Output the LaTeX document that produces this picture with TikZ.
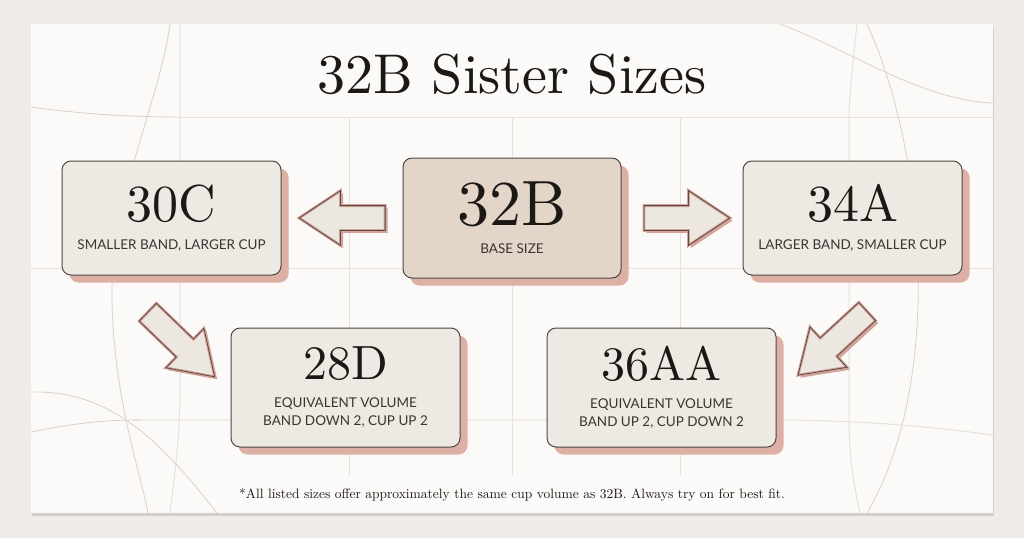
\documentclass[tikz,border=0pt]{standalone}
\usepackage{fontspec}
\newfontfamily\latofont{Lato}
\newfontfamily\dispfont{lmroman10-regular}[Extension=.otf]
\usepackage{tikz}
\usetikzlibrary{positioning,shapes.arrows,shadows}
\definecolor{pagebg}{HTML}{EFECE7}
\definecolor{cardbg}{HTML}{FBFAF8}
\definecolor{gridc}{HTML}{E6E1DA}
\definecolor{decoc}{HTML}{D9D2C8}
\definecolor{boxfill}{HTML}{EDEAE3}
\definecolor{basefill}{HTML}{E3D6C8}
\definecolor{boxline}{HTML}{4F4743}
\definecolor{boxshadow}{HTML}{DDB0A6}
\definecolor{arrowfill}{HTML}{ECE8E1}
\definecolor{arrowpink}{HTML}{D3A298}
\definecolor{arrowdark}{HTML}{5E4A45}
\definecolor{inkc}{HTML}{1C1816}
\definecolor{subc}{HTML}{3B3532}
\newcommand\numfont[1]{\dispfont\fontsize{#1}{#1}\selectfont\color{inkc}}
\newcommand\subfont{\latofont\fontsize{13.5}{18}\selectfont}
\tikzset{
  sizebox/.style={draw=boxline, line width=1pt, rounded corners=9pt, fill=boxfill,
    align=center, font=\subfont, text=subc, inner sep=0pt,
    drop shadow={shadow xshift=7.5pt, shadow yshift=-7.5pt, fill=boxshadow, opacity=1}},
  basebox/.style={sizebox, fill=basefill},
  swaparrow/.style={single arrow, fill=arrowfill, draw=arrowpink, line width=2.8pt,
    minimum height=86pt, single arrow head extend=15pt,
    single arrow tip angle=67, inner xsep=0pt, inner ysep=11pt,
    postaction={draw=arrowdark, line width=0.8pt},
    drop shadow={shadow xshift=2.5pt, shadow yshift=-2.5pt, fill=arrowpink, opacity=1}},
  gridline/.style={draw=gridc, line width=1pt},
  deco/.style={draw=decoc, line width=0.8pt},
}
\begin{document}
\begin{tikzpicture}[x=1pt, y=1pt]
  \useasboundingbox (0,0) rectangle (1024,-538);
  \fill[pagebg] (0,0) rectangle (1024,-538);
  \path[fill=cardbg, drop shadow={shadow xshift=1pt, shadow yshift=-2.5pt, fill=black, opacity=0.12}]
    (31,-24) rectangle (993,-513);

  \draw[gridline] (180,-117) -- (993,-117);
  \draw[gridline] (31,-268) -- (993,-268);
  \draw[gridline] (133,-420) -- (783,-420) .. controls (880,-421) and (940,-428) .. (993,-435);
  \foreach \gx in {349,512,680}
    \draw[gridline] (\gx,-117) -- (\gx,-476);
  \draw[gridline] (180,-24) -- (180,-390) .. controls (180,-440) and (174,-480) .. (170,-513);
  \draw[gridline] (857,-24) .. controls (852,-70) and (849,-100) .. (849,-117) -- (849,-420)
    .. controls (849,-460) and (855,-490) .. (860,-513);

  \draw[deco] (31,-107) .. controls (80,-114) and (130,-117) .. (180,-117);
  \draw[deco] (170,-24) .. controls (160,-100) and (110,-200) .. (112,-300)
    .. controls (114,-400) and (140,-470) .. (148,-513);
  \draw[deco] (31,-392) .. controls (110,-390) and (160,-440) .. (217,-513);
  \draw[deco] (31,-432) .. controls (70,-424) and (100,-420) .. (140,-420);
  \draw[deco] (780,-24) .. controls (850,-50) and (920,-100) .. (993,-103);
  \draw[deco] (867,-24) .. controls (925,-150) and (945,-380) .. (867,-513);

  \node[basebox, minimum width=218pt, minimum height=120pt] (base) at (512,-218)
    {{\numfont{64}32B}\\[10pt]BASE SIZE};
  \node[sizebox, minimum width=219pt, minimum height=114pt, left=121pt of base] (smaller)
    {{\numfont{52}30C}\\[10pt]SMALLER BAND, LARGER CUP};
  \node[sizebox, minimum width=219pt, minimum height=114pt, right=121pt of base] (larger)
    {{\numfont{52}34A}\\[10pt]LARGER BAND, SMALLER CUP};
  \node[sizebox, minimum width=229pt, minimum height=119pt] (bandDown) at (345.5,-387.5)
    {{\numfont{48}28D}\\[10pt]EQUIVALENT VOLUME\\BAND DOWN 2, CUP UP 2};
  \node[sizebox, minimum width=229pt, minimum height=119pt] (bandUp) at (661.5,-387.5)
    {{\numfont{48}36AA}\\[10pt]EQUIVALENT VOLUME\\BAND UP 2, CUP DOWN 2};

  \node[swaparrow, shape border rotate=180, anchor=tail] (toSmaller) at ([xshift=-16pt]base.west) {};
  \node[swaparrow, anchor=tail] (toLarger) at ([xshift=21pt]base.east) {};
  \node[swaparrow, minimum height=93pt, rotate=-44] (toBandDown) at (174.5,-338) {};
  \node[swaparrow, minimum height=94pt, rotate=-137.4] (toBandUp) at (839.5,-337) {};

  \node[font=\dispfont\fontsize{56}{60}\selectfont, text=inkc, anchor=base] (title) at (512,-93) {32B Sister Sizes};
  \node[font=\dispfont\fontsize{13.5}{16}\selectfont, text=inkc] (note) at (512,-495)
    {*All listed sizes offer approximately the same cup volume as 32B. Always try on for best fit.};
\end{tikzpicture}
\end{document}
